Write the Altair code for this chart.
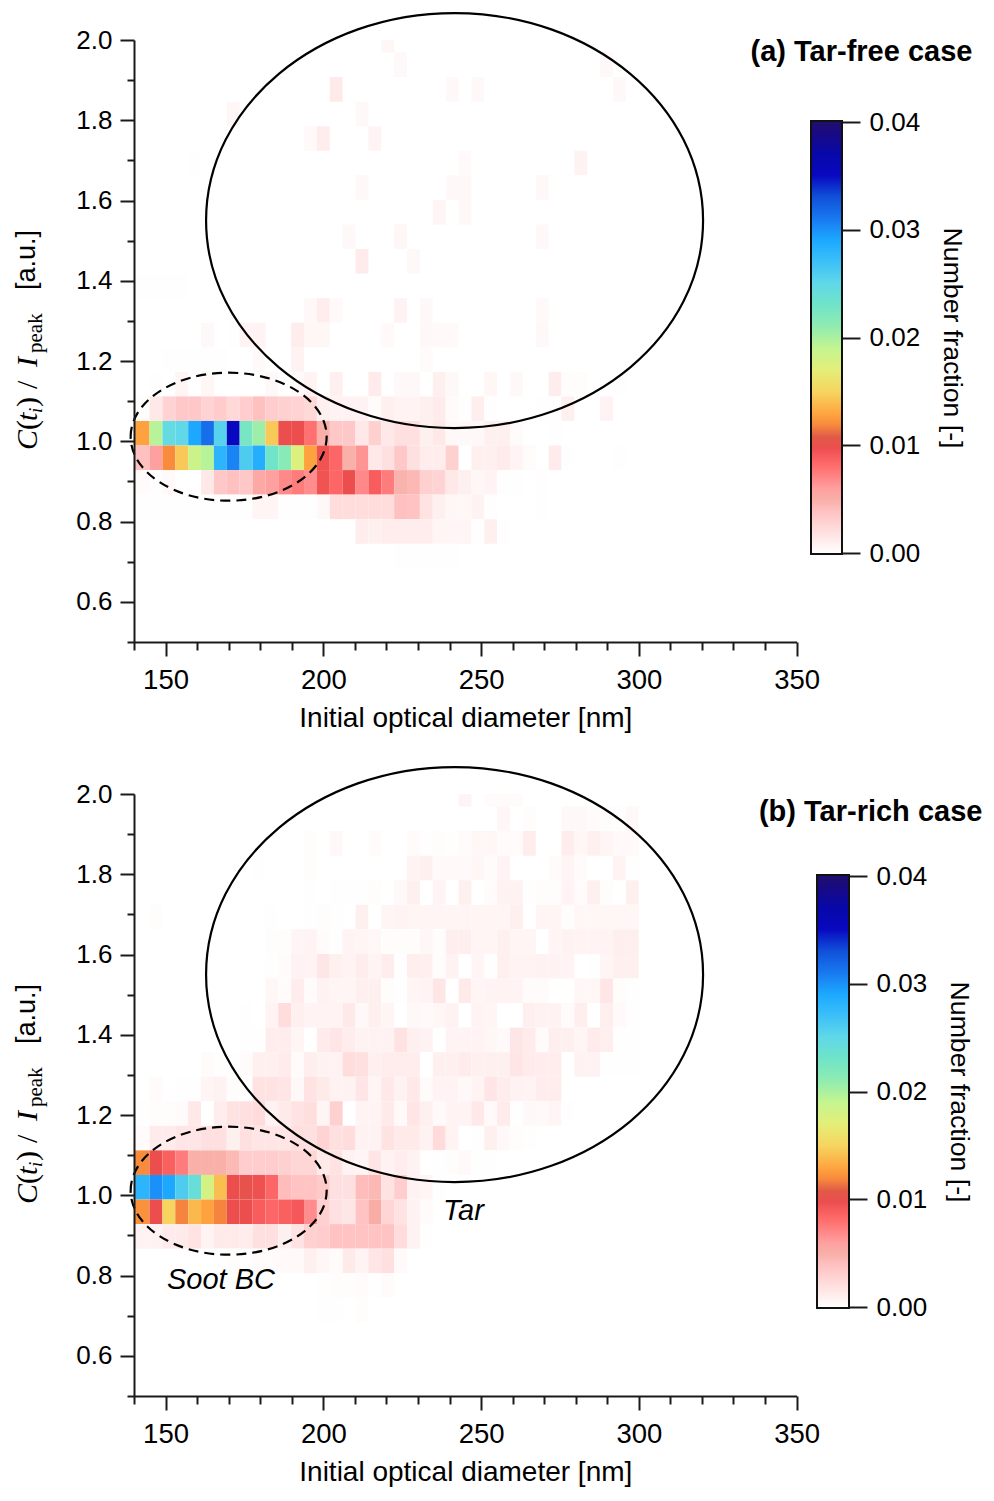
import altair as alt
import pandas as pd

# ---- colour scale (value, colour)
cmap_values = [0, .001, .002, .003, .004, .005, .006, .007, .008, .009, .0098, .0108, .012, .013, .015, .017,
               .019, .021, .023, .025, .027, .029, .031, .033, .035, .037, .039, .04]
cmap_colors = ["#ffffff", "#fff0f0", "#ffe0e0", "#ffd0d0", "#ffc0c0", "#f8b0a8", "#ffa0a0", "#ff8888", "#ff7070",
               "#f85c5c", "#ec4e4e", "#e05a48", "#f88c3c", "#ffa640", "#f5d560", "#e4ee78", "#c4f590", "#90ecb0",
               "#70e4c8", "#60d8e8", "#3cc0f8", "#1ca8ff", "#1878f0", "#1050d8", "#0808c0", "#0808a8", "#1a0a80",
               "#20106a"]

# ---- cell values in units of 1e-4, top row first, columns left to right
rows_a = [
    [0]*19 + [6],
    [0]*20 + [5] + [0]*15 + [5],
    [0]*15 + [14] + [0]*8 + [5, 0, 5] + [0]*10 + [5],
    [0]*7 + [6] + [0]*9 + [5],
    [0]*13 + [4, 12, 0, 0, 0, 8],
    [0]*4 + [1] + [0]*20 + [4] + [0]*8 + [9],
    [0]*17 + [5] + [0]*6 + [5, 5] + [0]*5 + [5],
    [0]*23 + [7, 0, 5],
    [0]*16 + [5, 0, 0, 0, 6] + [0]*10 + [5],
    [0]*17 + [13, 0, 0, 0, 5],
    [1, 1, 1, 1],
    [0]*13 + [5, 12, 4, 0, 0, 0, 0, 9, 0, 5] + [0]*8 + [4],
    [0, 0, 0, 0, 0, 5, 0, 1, 8, 8, 0, 0, 12, 6, 6, 0, 0, 0, 0, 4, 0, 0, 5, 4, 4, 0, 0, 0, 0, 0, 0, 5],
    [0, 0, 1, 1, 1, 1, 1, 0, 0, 4, 0, 0, 9] + [0]*9 + [3],
    [0, 1, 0, 7, 0, 6, 0, 0, 0, 0, 5, 0, 4, 8, 0, 10, 0, 0, 13, 0, 5, 5, 0, 10, 5, 0, 0, 6, 0, 5, 0, 0, 12, 2, 2, 0, 0, 1],
    [2, 15, 28, 35, 35, 28, 33, 25, 32, 40, 32, 30, 28, 25, 10, 9, 9, 9, 3, 10, 8, 8, 10, 13, 3, 1, 11, 1, 0, 0, 0, 1, 1, 10, 0, 0, 9],
    [128, 195, 245, 250, 290, 315, 255, 350, 225, 205, 145, 98, 98, 80, 50, 35, 35, 15, 30, 15, 20, 20, 10, 15, 5, 5, 5, 10, 10, 3, 0, 0, 1],
    [40, 60, 120, 145, 185, 195, 280, 305, 260, 285, 230, 215, 175, 128, 95, 85, 50, 65, 15, 20, 35, 20, 12, 12, 30, 0, 10, 10, 13, 8, 3, 0, 13, 1, 0, 0, 0, 1],
    [3, 1, 4, 0, 0, 15, 35, 40, 35, 55, 60, 70, 75, 68, 95, 85, 98, 70, 90, 75, 48, 45, 30, 28, 15, 10, 6, 8, 1, 1, 0, 1],
    [1, 1, 1, 1, 1, 1, 1, 1, 1, 7, 7, 1, 1, 1, 5, 22, 22, 22, 22, 22, 40, 38, 18, 10, 6, 6, 9, 1, 0, 0, 0, 1],
    [0]*17 + [12, 10, 12, 12, 12, 12, 7, 7, 7, 1, 10, 1],
    [0]*20 + [1, 1, 1, 1, 1],
]
rows_b = [
    [0]*25 + [8, 0, 3, 3, 3],
    [0]*28 + [6, 0, 2, 0, 0, 5, 5, 3, 2, 1, 5],
    [0]*13 + [2, 0, 5, 0, 0, 3, 0, 0, 3, 1, 2, 1, 3, 6, 6, 3, 3, 12, 0, 0, 12, 6, 10, 7, 4, 4],
    [0]*9 + [1, 0, 0, 0, 2] + [0]*7 + [8, 10, 4, 4, 4, 6, 3, 8, 0, 0, 0, 3, 7, 3, 0, 0, 8, 1],
    [0]*13 + [1, 0, 1, 1, 1, 2, 0, 5, 10, 0, 8, 0, 10, 0, 3, 9, 9, 1, 2, 2, 8, 3, 10, 2, 0, 10],
    [0, 2, 0, 0, 0, 0, 0, 0, 0, 0, 1, 0, 0, 1, 2, 1, 0, 10, 0, 7, 8, 7, 7, 7, 7, 7, 7, 7, 7, 10, 0, 7, 7, 2, 6, 6, 6, 6, 6],
    [0]*10 + [2, 2, 7, 8, 3, 1, 8, 7, 6, 2, 2, 2, 6, 2, 11, 11, 7, 7, 10, 7, 7, 0, 7, 9, 8, 8, 8, 11, 11],
    [0]*10 + [1, 3, 9, 8, 16, 10, 8, 12, 8, 12, 1, 11, 10, 2, 9, 0, 7, 1, 10, 8, 8, 9, 9, 8, 0, 1, 7, 10, 10],
    [0]*10 + [6, 3, 12, 3, 9, 7, 7, 10, 10, 2, 1, 7, 8, 16, 0, 14, 7, 8, 8, 8, 3, 3, 0, 0, 6, 6, 17, 2, 1],
    [0]*8 + [1, 0, 8, 22, 10, 8, 8, 8, 15, 5, 10, 7, 0, 5, 4, 6, 9, 0, 8, 7, 0, 0, 10, 9, 9, 3, 11, 0, 11, 4, 1],
    [0]*8 + [1, 1, 12, 12, 7, 0, 13, 17, 12, 9, 9, 9, 18, 10, 9, 0, 8, 8, 8, 6, 4, 16, 13, 3, 11, 10, 7, 13, 11, 1, 1],
    [0, 0, 0, 0, 0, 3, 1, 1, 3, 10, 10, 13, 3, 11, 9, 9, 22, 20, 10, 12, 12, 12, 0, 10, 10, 13, 10, 10, 10, 17, 13, 12, 12, 0, 9, 9, 1, 1, 1],
    [0, 3, 0, 1, 1, 7, 9, 2, 1, 19, 19, 17, 5, 18, 14, 9, 9, 17, 7, 15, 9, 15, 3, 8, 8, 5, 8, 17, 12, 9, 8, 12, 12],
    [1, 2, 2, 3, 15, 0, 12, 18, 20, 23, 9, 14, 18, 21, 7, 30, 0, 8, 8, 14, 4, 17, 10, 4, 8, 8, 15, 4, 13, 1, 5, 4, 7, 1],
    [3, 13, 13, 16, 16, 20, 20, 10, 20, 17, 17, 17, 21, 20, 28, 20, 22, 9, 9, 19, 14, 14, 9, 23, 8, 0, 1, 10, 5, 2, 1],
    [120, 98, 88, 75, 50, 50, 50, 44, 32, 32, 32, 30, 26, 26, 14, 18, 9, 7, 17, 9, 12, 9, 0, 1, 2, 4, 1, 1],
    [280, 300, 290, 260, 240, 180, 140, 98, 102, 96, 85, 42, 38, 38, 34, 20, 20, 42, 45, 18, 32, 9, 7, 1],
    [122, 98, 150, 118, 138, 128, 118, 98, 98, 90, 85, 88, 92, 68, 30, 20, 16, 38, 52, 27, 18, 9, 3],
    [9, 9, 13, 14, 18, 8, 14, 14, 12, 20, 20, 10, 18, 30, 32, 38, 38, 38, 38, 38, 22, 9, 1],
    [0, 0, 0, 0, 0, 0, 1, 2, 1, 3, 3, 4, 4, 10, 6, 3, 14, 8, 17, 20, 4],
    [0]*14 + [1, 2, 2, 3, 1, 3],
    [0]*14 + [1, 1, 0, 2],
]
x_first_edges = [140, 144.93]
x_bin_width = 4.08
y_bottom = 0.5
y_bin_height = 0.0612
n_y_bins = 25

x_major = [150, 200, 250, 300, 350]
x_minor = [140, 160, 170, 180, 190, 210, 220, 230, 240, 260, 270, 280, 290, 310, 320, 330, 340]
y_major = [.6, .8, 1.0, 1.2, 1.4, 1.6, 1.8, 2.0]
y_minor = [.5, .7, .9, 1.1, 1.3, 1.5, 1.7, 1.9]
cbar_ticks = [0, .01, .02, .03, .04]
x_title = "Initial optical diameter [nm]"

SANS = "Liberation Sans"
SERIF = "Liberation Serif"
INK = "#1a1a1a"
FS = 26


def cells(rows):
    out = []
    for t, row in enumerate(rows):
        i = n_y_bins - 1 - t
        for c, v in enumerate(row):
            if v == 0:
                continue
            x0 = x_first_edges[0] if c == 0 else x_first_edges[1] + (c - 1) * x_bin_width
            x1 = x_first_edges[1] + c * x_bin_width
            out.append({"x0": x0, "x1": x1, "y0": y_bottom + i * y_bin_height,
                        "y1": y_bottom + (i + 1) * y_bin_height, "v": v * 1e-4})
    return pd.DataFrame(out)


xs = alt.Scale(domain=[140, 350], nice=False, zero=False)
ys = alt.Scale(domain=[0.5, 2.0], nice=False, zero=False)
color = alt.Color("v:Q", legend=None,
                  scale=alt.Scale(domain=cmap_values, range=cmap_colors, interpolate="rgb", clamp=True))

minor_x_axis = alt.Axis(orient="bottom", values=x_minor, tickCount=40, grid=False, domain=False, labels=False,
                        tickColor=INK, tickWidth=2, tickSize=8, title=None, zindex=1)
minor_y_axis = alt.Axis(orient="left", values=y_minor, tickCount=40, grid=False, domain=False, labels=False,
                        tickColor=INK, tickWidth=2, tickSize=7, title=None, zindex=1)


def px(text, x, y, font=SANS, size=FS, style="normal", weight="normal", angle=0, align="left", baseline="alphabetic"):
    return (alt.Chart(alt.Data(values=[{}]))
            .mark_text(font=font, fontSize=size, fontStyle=style, fontWeight=weight, angle=angle, align=align,
                       baseline=baseline, color="#000000")
            .encode(x=alt.value(x), y=alt.value(y), text=alt.value(text)))


def ellipse(xc, yc, rx, ry, dash=None, x_axis=None, y_axis=None):
    r = ry / rx
    path = f"M-1,0A1,{r:.4f} 0 1,1 1,0A1,{r:.4f} 0 1,1 -1,0Z"
    kw = {"strokeDash": dash} if dash else {}
    return (alt.Chart(pd.DataFrame({"x0": [xc], "y0": [yc]}))
            .mark_point(shape=path, size=(2 * rx) ** 2, filled=False, stroke="#000000", strokeWidth=2.2,
                        opacity=1, clip=False, **kw)
            .encode(x=alt.X("x0:Q", scale=xs, axis=x_axis), y=alt.Y("y0:Q", scale=ys, axis=y_axis)))


def panel(rows, extra):
    heat = (alt.Chart(cells(rows)).mark_rect(clip=True, strokeWidth=0)
            .encode(
        x=alt.X("x0:Q", scale=xs, title=x_title,
                axis=alt.Axis(orient="bottom", values=x_major, grid=False, domainWidth=2, domainColor=INK,
                              tickColor=INK, tickWidth=2,
                              tickSize=14, format="d", labelFont=SANS, labelFontSize=27.5, labelColor="#000000",
                              labelPadding=10, labelOverlap=False, labelFlush=False, labelBound=False,
                              titleFont=SANS, titleFontSize=28, titleFontWeight="normal", titleColor="#000000",
                              titlePadding=11, zindex=1)),
        x2="x1:Q",
        y=alt.Y("y0:Q", scale=ys, title=None,
                axis=alt.Axis(orient="left", values=y_major, grid=False, domainWidth=2, domainColor=INK,
                              tickColor=INK, tickWidth=2,
                              tickSize=14, format=".1f", labelFont=SANS, labelFontSize=FS, labelColor="#000000",
                              labelPadding=8, labelOverlap=False, labelFlush=False, labelBound=False, zindex=1)),
        y2="y1:Q",
        color=color))
    ylab = [
        px("C", -97, 410, SERIF, 30, "italic", angle=270),
        px("(", -97, 390, SERIF, 30, angle=270),
        px("t", -97, 381, SERIF, 30, "italic", angle=270),
        px("i", -92, 373, SERIF, 19, "italic", angle=270),
        px(")", -97, 367, SERIF, 30, angle=270),
        px("/", -97, 349, SERIF, 30, angle=270),
        px("I", -97, 327, SERIF, 30, "italic", angle=270),
        px("peak", -92, 313, SERIF, 21, angle=270),
        px("[a.u.]", -99, 250, SANS, 27, angle=270),
    ]
    return alt.layer(heat,
                     ellipse(241.6, 1.55, 248.5, 207.5, x_axis=minor_x_axis, y_axis=minor_y_axis),
                     ellipse(170, 1.0115, 98, 64, [10, 6]),
                     *ylab, *extra
                     ).resolve_axis(x="independent", y="independent").properties(width=662.6, height=602)


def colorbar(lead, bar_px, rng, title_pad):
    df = pd.DataFrame({"a": [-0.0001], "b": [0.0401]})
    grad = alt.Gradient(gradient="linear", x1=0, y1=1, x2=0, y2=0,
                        stops=[alt.GradientStop(offset=v / 0.04, color=c) for v, c in zip(cmap_values, cmap_colors)])
    return (alt.Chart(df).mark_rect(color=grad, stroke="#111111", strokeWidth=2)
            .encode(
        x=alt.value(lead), x2=alt.value(lead + bar_px),
        y=alt.Y("a:Q", scale=alt.Scale(domain=[0, 0.04], range=rng, nice=False, zero=False), title="Number fraction [-]",
                axis=alt.Axis(orient="right", values=cbar_ticks, format=".2f", grid=False, domain=False, tickColor=INK,
                              tickWidth=2, tickSize=18, labelFont=SANS, labelFontSize=FS, labelColor="#000000",
                              labelPadding=9, labelOverlap=False, labelBound=False, labelFlush=False,
                              titleFont=SANS, titleFontSize=26.7, titleFontWeight="normal", titleColor="#000000",
                              titleAngle=90, titlePadding=title_pad)),
        y2="b:Q")
            .properties(width=lead + bar_px, height=602))


a_extra = [px("(a) Tar-free case", 838.4, 21, size=29, weight="bold", align="right")]
b_extra = [px("(b) Tar-rich case", 848.4, 27, size=29, weight="bold", align="right"),
           px("Tar", 309, 426, size=29, style="italic"),
           px("Soot BC", 33, 495, size=29, style="italic")]

chart = alt.concat(
    panel(rows_a, a_extra), colorbar(14, 31, [513, 82], 18),
    panel(rows_b, b_extra), colorbar(20, 32, [513, 82], 18),
    columns=2, spacing={"row": 152, "column": 0}, bounds="flush",
).properties(padding={"left": 5, "top": 0, "right": 0, "bottom": 0}, background="white"
             ).configure_view(stroke=None)

chart.save("out.html", embed_options={"renderer": "svg", "actions": False})
